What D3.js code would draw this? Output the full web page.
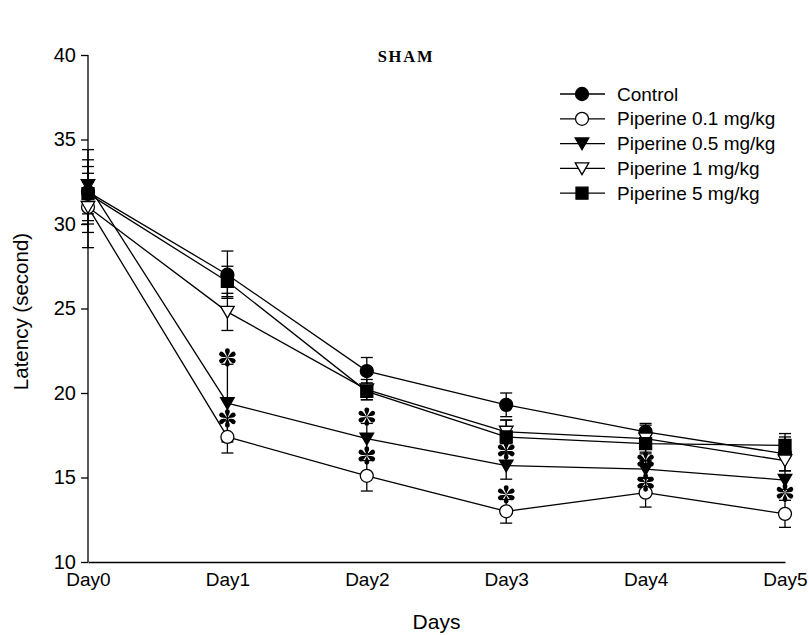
<!DOCTYPE html>
<html>
<head>
<meta charset="utf-8">
<script src="https://cdn.jsdelivr.net/npm/d3@7"></script>
<style>
  html, body { margin: 0; padding: 0; background: #fff; }
  svg { display: block; }
</style>
</head>
<body>
<svg id="chart" width="809" height="635"></svg>
<script>
// Escape latency over the training days, SHAM groups (mean ± SEM)
const days = ["Day0", "Day1", "Day2", "Day3", "Day4", "Day5"];
const yTicks = [10, 15, 20, 25, 30, 35, 40];

const seriesNames = ["Control", "Piperine 0.1 mg/kg", "Piperine 0.5 mg/kg", "Piperine 1 mg/kg", "Piperine 5 mg/kg"];
const seriesMarkers = ["circleFilled", "circleOpen", "triDownFilled", "triDownOpen", "squareFilled"];

const control    = [31.9, 27.0, 21.3, 19.3, 17.7, 16.4];
const controlErr = [1.9, 1.4, 0.8, 0.7, 0.5, 1.0];
const pip01      = [31.0, 17.4, 15.1, 13.0, 14.1, 12.85];
const pip01Err   = [2.4, 0.95, 0.9, 0.7, 0.85, 0.8];
const pip05      = [32.3, 19.4, 17.3, 15.7, 15.5, 14.85];
const pip05Err   = [2.1, 2.3, 0.9, 0.8, 0.5, 0.55];
const pip1       = [31.0, 24.8, 20.2, 17.7, 17.3, 16.0];
const pip1Err    = [1.5, 1.1, 0.6, 0.7, 0.8, 0.6];
const pip5       = [31.8, 26.6, 20.1, 17.4, 17.0, 16.9];
const pip5Err    = [1.2, 0.9, 0.5, 1.0, 0.6, 0.7];

// significance marks (* vs control): day index and latency level of the mark
const sigDay   = [1, 1, 2, 2, 3, 3, 4, 4, 5];
const sigLevel = [22.1, 18.5, 18.6, 16.3, 16.6, 14.0, 16.0, 14.7, 14.1];

const seriesValues = [control, pip01, pip05, pip1, pip5];
const seriesErrors = [controlErr, pip01Err, pip05Err, pip1Err, pip5Err];

const svg = d3.select("#chart");
const margin = { left: 88, right: 24, top: 55, bottom: 73 };
const W = 809, H = 635;

const x = d3.scalePoint().domain(days).range([margin.left, W - margin.right]);
const y = d3.scaleLinear().domain([10, 40]).range([H - margin.bottom, margin.top]);

const font = "Arial, 'Liberation Sans', Helvetica, sans-serif";

// marker shapes
function markerPath(kind) {
  if (kind.startsWith("circle")) return d3.symbol(d3.symbolCircle, Math.PI * 6.5 * 6.5)();
  if (kind.startsWith("triDown")) return "M-6.8,-5.6L6.8,-5.6L0,6.2Z";
  return "M-6,-6L6,-6L6,6L-6,6Z";
}
function markerFill(kind) { return kind.endsWith("Open") ? "#fff" : "#000"; }

// y axis
const yAxis = d3.axisLeft(y).tickValues(yTicks).tickSize(7).tickPadding(5);
const gy = svg.append("g").attr("transform", `translate(${margin.left},0)`).call(yAxis);
gy.select(".domain").attr("stroke", "#000").attr("stroke-width", 1.3).attr("d", `M-0,${y(40)}V${y(10)}`);
gy.selectAll(".tick line").attr("stroke", "#000").attr("stroke-width", 1.3);
gy.selectAll(".tick text").attr("font-family", font).attr("font-size", 20).attr("fill", "#000");

// x axis (labels only, no tick marks)
const xAxis = d3.axisBottom(x).tickSize(0).tickPadding(11);
const gx = svg.append("g").attr("transform", `translate(0,${y(10)})`).call(xAxis);
gx.select(".domain").attr("stroke", "#000").attr("stroke-width", 1.3);
gx.selectAll(".tick text").attr("font-family", font).attr("font-size", 19).attr("fill", "#000");

// axis titles
svg.append("text")
  .attr("x", (margin.left + W - margin.right) / 2).attr("y", 629)
  .attr("text-anchor", "middle").attr("font-family", font).attr("font-size", 21)
  .text("Days");
svg.append("text")
  .attr("transform", `translate(28,${(y(40) + y(10)) / 2 + 3}) rotate(-90)`)
  .attr("text-anchor", "middle").attr("font-family", font).attr("font-size", 20.5)
  .text("Latency (second)");

// title
svg.append("text")
  .attr("x", 406).attr("y", 62)
  .attr("text-anchor", "middle")
  .attr("font-family", "'Liberation Serif', 'Times New Roman', serif")
  .attr("font-weight", "bold").attr("font-size", 16.5).attr("letter-spacing", 1.8)
  .text("SHAM");

const plot = svg.append("g");

// error bars
const capHalf = 6;
seriesValues.forEach((vals, si) => {
  const errs = seriesErrors[si];
  const g = plot.append("g");
  vals.forEach((v, i) => {
    const cx = x(days[i]);
    const lo = y(v - errs[i]), hi = y(v + errs[i]);
    g.append("line").attr("x1", cx).attr("x2", cx).attr("y1", lo).attr("y2", hi)
      .attr("stroke", "#000").attr("stroke-width", 1.3);
    [lo, hi].forEach(yy => g.append("line")
      .attr("x1", cx - capHalf).attr("x2", cx + capHalf).attr("y1", yy).attr("y2", yy)
      .attr("stroke", "#000").attr("stroke-width", 1.3));
  });
});

// connecting lines
const line = d3.line().x((d, i) => x(days[i])).y(d => y(d));
seriesValues.forEach(vals => {
  plot.append("path").attr("d", line(vals))
    .attr("fill", "none").attr("stroke", "#000").attr("stroke-width", 1.3);
});

// markers
seriesValues.forEach((vals, si) => {
  const kind = seriesMarkers[si];
  plot.append("g").selectAll("path").data(vals).join("path")
    .attr("transform", (d, i) => `translate(${x(days[i])},${y(d)})`)
    .attr("d", markerPath(kind))
    .attr("fill", markerFill(kind)).attr("stroke", "#000").attr("stroke-width", 1.3);
});

// significance asterisks: six teardrop petals
const petal = "M0,0C-0.5,-2.5 -2.6,-5.2 -2.4,-6.8A2.4,2.4 0 0 1 2.4,-6.8C2.6,-5.2 0.5,-2.5 0,0Z";
const sigG = plot.append("g");
sigDay.forEach((d, k) => {
  const g = sigG.append("g").attr("transform", `translate(${x(days[d])},${y(sigLevel[k])})`);
  [0, 60, 120, 180, 240, 300].forEach(a => {
    g.append("path").attr("d", petal).attr("transform", `rotate(${a})`).attr("fill", "#000");
  });
});

// legend
const legend = svg.append("g").attr("transform", "translate(560,94)");
seriesNames.forEach((name, i) => {
  const row = legend.append("g").attr("transform", `translate(0,${i * 24.8})`);
  row.append("line").attr("x1", 0).attr("x2", 45).attr("y1", 0).attr("y2", 0)
    .attr("stroke", "#000").attr("stroke-width", 1.3);
  row.append("path").attr("transform", "translate(22,0)")
    .attr("d", markerPath(seriesMarkers[i]))
    .attr("fill", markerFill(seriesMarkers[i])).attr("stroke", "#000").attr("stroke-width", 1.3);
  row.append("text").attr("x", 57).attr("y", 0).attr("dy", "0.35em")
    .attr("font-family", font).attr("font-size", 19).text(name);
});
</script>
</body>
</html>
